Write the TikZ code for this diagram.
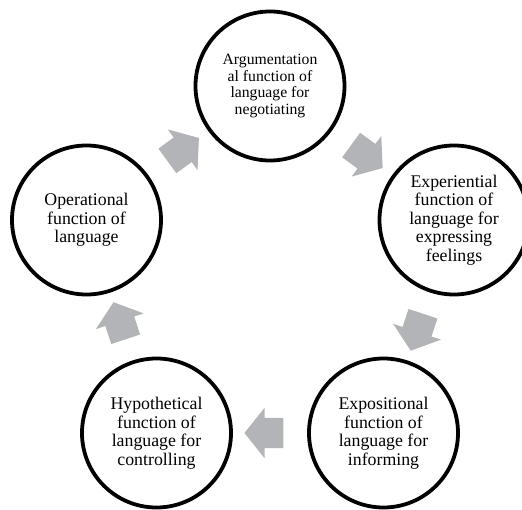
\documentclass[tikz,border=0pt]{standalone}
\usepackage{fontspec}
\setmainfont{Liberation Serif}
\usetikzlibrary{shapes.arrows}
\definecolor{arrowgray}{RGB}{178,180,183}
\begin{document}
\begin{tikzpicture}[x=1pt,y=1pt,
  func/.style={circle, draw=black, line width=3.8pt, minimum size=149pt, inner sep=0pt, align=center, font=\fontsize{17.8}{18.5}\selectfont},
  topfunc/.style={func, font=\fontsize{15.7}{16.7}\selectfont},
  blockarrow/.style={single arrow, fill=arrowgray, draw=none, minimum height=39pt, minimum width=0pt, single arrow head extend=10pt, single arrow tip angle=103, inner xsep=0pt, inner ysep=15pt, sloped, allow upside down}]
\useasboundingbox (0,0) rectangle (522,-510);
\node[topfunc] (arg) at (270,-86) {Argumentation\\al function of\\language for\\negotiating};
\node[func] (exp) at (454,-220) {Experiential\\function of\\language for\\expressing\\feelings};
\node[func] (expo) at (383.5,-433) {Expositional\\function of\\language for\\informing};
\node[func] (hyp) at (156.5,-433) {Hypothetical\\function of\\language for\\controlling};
\node[func] (op) at (86.5,-220) {Operational\\function of\\language};
\path (op) -- node[blockarrow] (a1) {} (arg);
\path (arg) -- node[blockarrow] (a2) {} (exp);
\path (exp) -- node[blockarrow] (a3) {} (expo);
\path (expo) -- node[blockarrow] (a4) {} (hyp);
\path (hyp) -- node[blockarrow] (a5) {} (op);
\end{tikzpicture}
\end{document}
